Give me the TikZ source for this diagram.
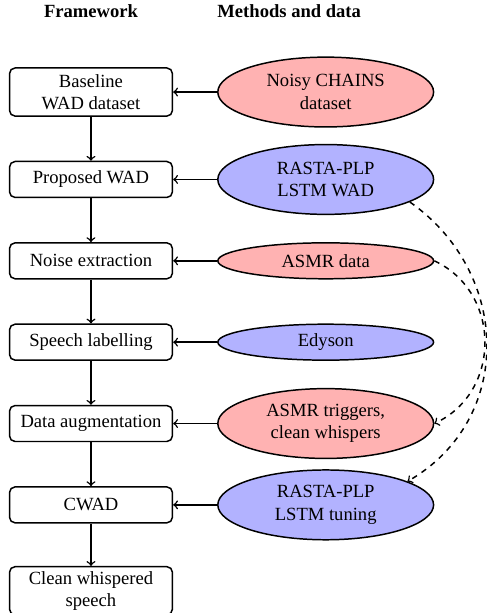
\documentclass[tikz,border=0pt]{standalone}
\usepackage{fontspec}
\setmainfont{Liberation Serif}
\usetikzlibrary{positioning, shapes, shapes.geometric, arrows}
\tikzset{fwbox/.style={draw, thick, rounded corners=3pt, align=center, minimum width=3.08cm, minimum height=0.68cm, inner sep=0.2em}}
\tikzset{fwbox2/.style={fwbox, minimum height=0.91cm}}
\tikzset{dset/.style={draw, thick, ellipse, align=center, minimum width=4.08cm, minimum height=0.68cm, inner sep=1pt}}
\tikzset{dset2/.style={dset, minimum height=1.32cm}}
\tikzset{coltitle/.style={font=\bfseries, inner sep=0pt}}
\tikzset{arr/.style={draw, ->, thick}}
\tikzset{darr/.style={arr, dashed}}
\begin{document}
\begin{tikzpicture}
	\useasboundingbox (-1.72,1.74) rectangle (7.48,-9.85);
	% framework column
	\node[fwbox2] (base) {Baseline\\WAD dataset};
	\node[fwbox, below=.83 of base] (prop) {Proposed WAD};
	\node[fwbox, below=.83 of prop] (noise) {Noise extraction};
	\node[fwbox, below=.83 of noise] (label) {Speech labelling};
	\node[fwbox, below=.83 of label] (aug) {Data augmentation};
	\node[fwbox, below=.83 of aug] (cwad) {CWAD};
	\node[fwbox2, below=.8 of cwad] (clean) {Clean whispered\\speech};
	% methods and data column
	\node[dset2, fill=red!30, right=.83 of base] (chains) {Noisy CHAINS\\dataset};
	\node[dset2, fill=blue!30, right=.83 of prop] (lstm) {RASTA-PLP\\LSTM WAD};
	\node[dset, fill=red!30, right=.83 of noise] (asmr) {ASMR data};
	\node[dset, fill=blue!30, right=.83 of label] (edy) {Edyson};
	\node[dset2, fill=red!30, right=.83 of aug] (trig) {ASMR triggers,\\clean whispers};
	\node[dset2, fill=blue!30, right=.83 of cwad] (tune) {RASTA-PLP\\LSTM tuning};
	% headings
	\node[coltitle, above=.93 of base] (fw) {Framework};
	\node[coltitle, anchor=base west] (md) at (fw.base -| chains.west) {Methods and data};
	\foreach \a/\b in {base/prop, prop/noise, noise/label, label/aug, aug/cwad, cwad/clean}
		\draw[arr] (\a) -- (\b);
	\foreach \a/\b in {chains/base, lstm/prop, asmr/noise, edy/label, trig/aug, tune/cwad}
		\draw[arr] (\a) -- (\b);
	\draw[darr] (lstm.-15) to[out=-35, in=30, looseness=1.13] (tune.16);
	\draw[darr] (asmr.east) to[out=-25, in=25, looseness=1.17] (trig.east);
\end{tikzpicture}
\end{document}
